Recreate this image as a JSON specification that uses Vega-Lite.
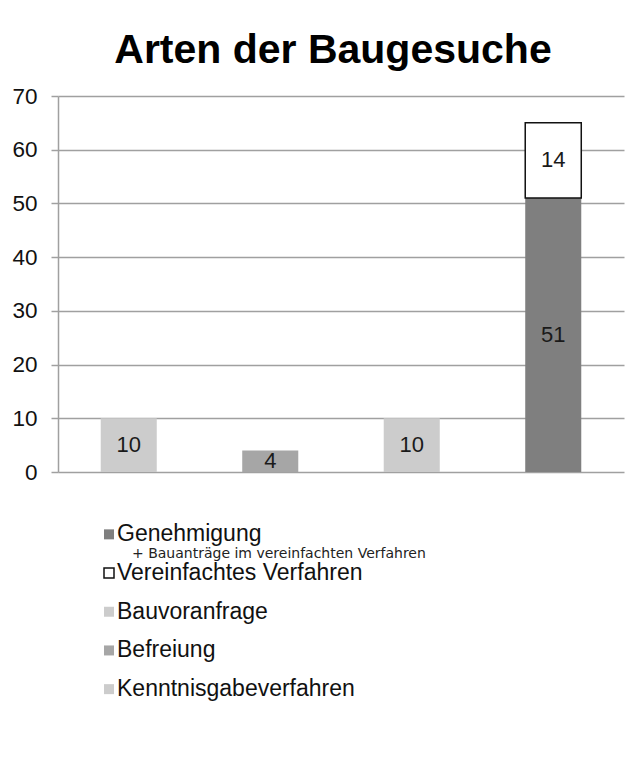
{
  "$schema": "https://vega.github.io/schema/vega-lite/v6.json",
  "padding": {"left": 11, "top": 30, "right": 5, "bottom": 5},
  "background": "white",
  "title": {"text": "Arten der Baugesuche", "fontSize": 41, "font": "Liberation Sans", "fontWeight": "bold", "color": "#000000", "anchor": "middle", "dx": 15, "offset": 13},
  "datasets": {
    "bars": [
      {"cat": "Bauvoranfrage", "type": "Bauvoranfrage", "value": 10},
      {"cat": "Befreiung", "type": "Befreiung", "value": 4},
      {"cat": "Kenntnisgabeverfahren", "type": "Kenntnisgabeverfahren", "value": 10},
      {"cat": "Genehmigung", "type": "Genehmigung", "value": 51, "note": "+ Bauanträge im vereinfachten Verfahren"},
      {"cat": "Genehmigung", "type": "Vereinfachtes Verfahren", "value": 14}
    ]
  },
  "spacing": 31,
  "vconcat": [
    {
      "width": 566,
      "height": 376,
      "data": {"name": "bars"},
      "layer": [
        {
          "mark": {"type": "bar", "strokeWidth": 1.5},
          "encoding": {
            "x": {"field": "cat", "type": "nominal", "sort": ["Bauvoranfrage", "Befreiung", "Kenntnisgabeverfahren", "Genehmigung"], "scale": {"paddingInner": 0.604, "paddingOuter": 0.302}, "axis": null},
            "y": {"field": "value", "type": "quantitative", "stack": "zero", "scale": {"domain": [0, 70], "nice": false},
              "axis": {"values": [0, 10, 20, 30, 40, 50, 60, 70], "title": null, "grid": true, "gridColor": "#a0a0a0", "gridWidth": 1.5, "domainColor": "#a0a0a0", "domainWidth": 1.5, "tickColor": "#a0a0a0", "tickWidth": 1.5, "tickSize": 7, "labelPadding": 14, "labelFontSize": 22.5, "labelFont": "Liberation Sans", "labelColor": "#111111"}},
            "color": {"field": "type", "type": "nominal",
              "scale": {"domain": ["Genehmigung", "Vereinfachtes Verfahren", "Bauvoranfrage", "Befreiung", "Kenntnisgabeverfahren"], "range": ["#7f7f7f", "#ffffff", "#cccccc", "#a6a6a6", "#cccccc"]},
              "legend": null},
            "stroke": {"condition": {"test": "datum.type === 'Vereinfachtes Verfahren'", "value": "#111111"}, "value": null},
            "order": {"field": "type", "sort": "ascending"}
          }
        },
        {
          "transform": [
            {"stack": "value", "groupby": ["cat"], "sort": [{"field": "type", "order": "ascending"}], "as": ["v0", "v1"]},
            {"fold": ["v0", "v1"], "as": ["k", "pos"]}
          ],
          "mark": {"type": "text", "fontSize": 22, "font": "Liberation Sans", "color": "#1a1a1a"},
          "encoding": {
            "x": {"field": "cat", "type": "nominal", "sort": ["Bauvoranfrage", "Befreiung", "Kenntnisgabeverfahren", "Genehmigung"]},
            "y": {"field": "pos", "type": "quantitative", "aggregate": "mean"},
            "text": {"field": "value", "type": "quantitative"},
            "detail": {"field": "type"}
          }
        }
      ]
    },
    {
      "width": 102,
      "height": 193.5,
      "data": {"name": "bars"},
      "encoding": {
        "y": {"field": "type", "type": "nominal", "sort": ["Genehmigung", "Vereinfachtes Verfahren", "Bauvoranfrage", "Befreiung", "Kenntnisgabeverfahren"], "axis": null}
      },
      "layer": [
        {
          "mark": {"type": "square", "size": 100, "filled": true, "opacity": 1, "strokeWidth": 1.5},
          "encoding": {
            "color": {"field": "type", "type": "nominal",
              "scale": {"domain": ["Genehmigung", "Vereinfachtes Verfahren", "Bauvoranfrage", "Befreiung", "Kenntnisgabeverfahren"], "range": ["#7f7f7f", "#ffffff", "#cccccc", "#a6a6a6", "#cccccc"]},
              "legend": null},
            "stroke": {"condition": {"test": "datum.type === 'Vereinfachtes Verfahren'", "value": "#111111"}, "value": null}
          }
        },
        {
          "mark": {"type": "text", "align": "left", "dx": 8, "fontSize": 23, "font": "Liberation Sans", "color": "#111111"},
          "encoding": {"text": {"field": "type", "type": "nominal"}}
        },
        {
          "transform": [{"filter": "isValid(datum.note)"}],
          "mark": {"type": "text", "align": "left", "dx": 23, "dy": 19.4, "fontSize": 14, "font": "DejaVu Sans", "color": "#222222"},
          "encoding": {"text": {"field": "note", "type": "nominal"}}
        }
      ]
    }
  ],
  "config": {"view": {"stroke": null}}
}
